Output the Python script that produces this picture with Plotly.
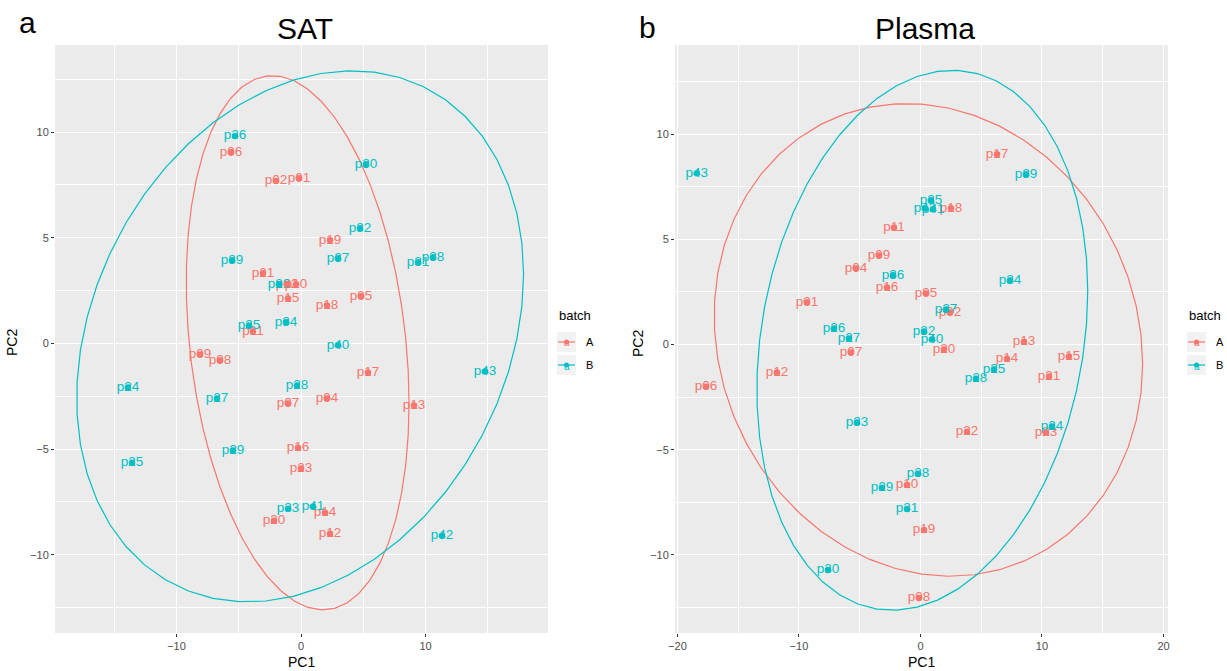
import numpy as np
import plotly.graph_objects as go

RED = "#F8766D"
TEAL = "#00BFC4"

# ---------------- data ----------------
A_labels = ["p01", "p02", "p04", "p05", "p06", "p07", "p08", "p09", "p10", "p11", "p12",
            "p13", "p14", "p15", "p16", "p17", "p18", "p19", "p20", "p21", "p22", "p23"]
B_labels = ["p24", "p25", "p26", "p27", "p28", "p29", "p30", "p31", "p32", "p33",
            "p34", "p35", "p36", "p37", "p38", "p39", "p40", "p41", "p42", "p43"]

sat_A_pc1 = [-0.16, -2.01, 2.09, 4.82, -5.62, -1.04, -6.51, -8.11, -0.40, -3.86, 2.33,
             9.08, 1.93, -1.04, -0.24, 5.38, 2.09, 2.33, -2.17, -3.05, -1.12, 0.00]
sat_A_pc2 = [7.82, 7.68, -2.61, 2.23, 9.05, -2.84, -0.81, -0.52, 2.80, 0.57, -9.00,
             -2.94, -8.01, 2.13, -4.93, -1.37, 1.80, 4.88, -8.39, 3.32, 2.80, -5.92]
sat_B_pc1 = [-13.90, -13.57, -1.77, -6.75, -0.32, -5.46, 5.22, 9.40, 4.74, -1.04,
             -1.20, -4.18, -5.30, 2.97, 10.60, -5.54, 2.97, 0.96, 11.33, 14.78]
sat_B_pc2 = [-2.09, -5.64, 2.80, -2.61, -1.99, -5.07, 8.48, 3.84, 5.45, -7.82,
             1.00, 0.85, 9.81, 4.03, 4.08, 3.93, -0.09, -7.73, -9.10, -1.33]

plasma_A_pc1 = [-9.34, 2.43, -5.31, 0.45, -17.65, -5.72, -0.12, -3.42, -1.11, -2.18, -11.81,
                8.52, 7.12, 12.22, -2.76, 6.30, 2.51, 0.29, 1.93, 10.58, 3.83, 10.33]
plasma_A_pc2 = [2.00, 1.52, 3.62, 2.43, -2.00, -0.38, -12.05, 4.24, -6.67, 5.57, -1.33,
                0.14, -0.67, -0.57, 2.71, 9.05, 6.48, -8.81, -0.24, -1.52, -4.14, -4.19]
plasma_B_pc1 = [10.82, 6.05, -7.12, -5.88, 4.57, -3.17, -7.61, -1.11, 0.29, -5.23,
                7.37, 0.86, -2.26, 2.10, -0.21, 8.68, 0.95, 1.03, 0.37, -18.40]
plasma_B_pc2 = [-3.90, -1.19, 0.76, 0.29, -1.62, -6.81, -10.71, -7.81, 0.62, -3.71,
                3.05, 6.86, 3.29, 1.67, -6.14, 8.10, 0.24, 6.43, 6.48, 8.14]

batches = ["A", "B"]
batch_colors = [RED, TEAL]

W, H = 1227, 671
FONT = "Liberation Sans, Arial, sans-serif"


# ------------- stat_ellipse (multivariate t, level 0.95) -------------
def cov_trob(x, nu=5, maxit=25, tol=0.01):
    n, p = x.shape
    wt = np.ones(n)
    loc = x.mean(axis=0)
    w = np.sqrt(wt)
    for _ in range(maxit):
        w0 = w
        X = x - loc
        _, d, vt = np.linalg.svd(np.sqrt(w / w.sum())[:, None] * X, full_matrices=False)
        wX = X @ vt.T @ np.diag(1.0 / d)
        Q = (wX ** 2).sum(axis=1)
        w = (wt * (nu + p)) / (nu + Q)
        loc = (w[:, None] * x).sum(axis=0) / w.sum()
        if np.all(np.abs(w - w0) < tol):
            break
    X = x - loc
    sw = np.sqrt(w)[:, None] * X
    return loc, sw.T @ sw / wt.sum()


def ellipse(px, py, level=0.95, segments=51):
    x = np.column_stack([px, py])
    n = len(px)
    center, shape = cov_trob(x)
    dfd = n - 1
    fq = (dfd / 2.0) * ((1 - level) ** (-2.0 / dfd) - 1)
    radius = np.sqrt(2 * fq)
    chol = np.linalg.cholesky(shape).T
    ang = np.arange(segments + 1) * 2 * np.pi / segments
    uc = np.column_stack([np.cos(ang), np.sin(ang)])
    e = center + radius * (uc @ chol)
    return e[:, 0], e[:, 1]


fig = go.Figure()

panels = [
    ("x", "y", [(A_labels, sat_A_pc1, sat_A_pc2), (B_labels, sat_B_pc1, sat_B_pc2)]),
    ("x2", "y2", [(A_labels, plasma_A_pc1, plasma_A_pc2), (B_labels, plasma_B_pc1, plasma_B_pc2)]),
]

for xa, ya, groups in panels:
    for (lab, p1, p2), col, nm in zip(groups, batch_colors, batches):
        ex, ey = ellipse(p1, p2)
        fig.add_trace(go.Scatter(x=ex, y=ey, mode="lines", xaxis=xa, yaxis=ya, name=nm,
                                 line=dict(color=col, width=1.2), showlegend=False,
                                 hoverinfo="skip"))
    for (lab, p1, p2), col, nm in zip(groups, batch_colors, batches):
        fig.add_trace(go.Scatter(x=p1, y=p2, mode="text", text=lab, xaxis=xa, yaxis=ya, name=nm,
                                 textposition="middle center",
                                 textfont=dict(color=col, family=FONT, size=13.5), showlegend=False))
    for (lab, p1, p2), col, nm in zip(groups, batch_colors, batches):
        fig.add_trace(go.Scatter(x=p1, y=p2, mode="markers", xaxis=xa, yaxis=ya, name=nm,
                                 marker=dict(color=col, size=6.5), showlegend=False))

top, bot = 1 - 45 / H, 1 - 633 / H
axis_common = dict(
    showgrid=True, gridcolor="white", gridwidth=1.1, zeroline=False,
    ticks="outside", ticklen=3, tickcolor="#333333", tickwidth=1,
    tickfont=dict(family=FONT, size=11, color="#4D4D4D"),
    showline=False, automargin=False,
)
ymin = dict(showgrid=True, gridcolor="white", gridwidth=0.5,
            tickvals=[-12.5, -7.5, -2.5, 2.5, 7.5, 12.5], ticks="")
xmin = dict(showgrid=True, gridcolor="white", gridwidth=0.5, tickvals=[-15, -5, 5, 15], ticks="")
yticks = dict(tickvals=[-10, -5, 0, 5, 10], ticktext=["\u221210", "\u22125", "0", "5", "10"])

annotations = []
shapes = []


def ann(text, x, y, size, color="black", xanchor="center", angle=0):
    annotations.append(dict(text=text, x=x / W, y=1 - y / H, xref="paper", yref="paper",
                            showarrow=False, textangle=angle,
                            font=dict(size=size, color=color, family=FONT),
                            xanchor=xanchor, yanchor="middle"))


# titles and panel tags
ann("SAT", 305, 29, 30)
ann("Plasma", 925, 29, 30)
ann("a", 27, 22, 30)
ann("b", 647, 28, 30)
# axis titles
ann("PC1", 301, 662, 14)
ann("PC1", 921, 662, 14)
ann("PC2", 12, 343, 14, angle=-90)
ann("PC2", 638, 343, 14, angle=-90)

# manual legends (ggplot style)
for kx in (557, 1187):
    ann("batch", kx, 315, 13, xanchor="left")
    for i, (nm, col) in enumerate(zip(batches, batch_colors)):
        cy = 342 + i * 23
        shapes.append(dict(type="rect", xref="paper", yref="paper",
                           x0=kx / W, x1=(kx + 19) / W, y0=1 - (cy - 10) / H, y1=1 - (cy + 10) / H,
                           fillcolor="#F2F2F2", line=dict(width=0), layer="below"))
        shapes.append(dict(type="line", xref="paper", yref="paper",
                           x0=(kx + 1) / W, x1=(kx + 18) / W, y0=1 - cy / H, y1=1 - cy / H,
                           line=dict(color=col, width=1.2)))
        ann("a", kx + 9.5, cy + 1, 10, color=col)
        shapes.append(dict(type="circle", xref="paper", yref="paper",
                           x0=(kx + 7) / W, x1=(kx + 12) / W, y0=1 - (cy - 2.5) / H, y1=1 - (cy + 2.5) / H,
                           fillcolor=col, line=dict(width=0)))
        ann(nm, kx + 27, cy, 11, xanchor="left")

fig.update_layout(
    width=W, height=H,
    margin=dict(l=0, r=0, t=0, b=0),
    paper_bgcolor="white", plot_bgcolor="#EBEBEB",
    font=dict(family=FONT, color="black"),
    showlegend=False,
    xaxis=dict(domain=[55 / W, 548 / W], anchor="y", range=[-19.76, 19.84],
               tickvals=[-10, 0, 10], ticktext=["\u221210", "0", "10"], minor=xmin, **axis_common),
    yaxis=dict(domain=[bot, top], anchor="x", range=[-13.70, 14.12], minor=ymin, **yticks, **axis_common),
    xaxis2=dict(domain=[675 / W, 1168 / W], anchor="y2", range=[-20.2, 20.37],
                tickvals=[-20, -10, 0, 10, 20], ticktext=["\u221220", "\u221210", "0", "10", "20"],
                minor=xmin, **axis_common),
    yaxis2=dict(domain=[bot, top], anchor="x2", range=[-13.71, 14.24], minor=ymin, **yticks, **axis_common),
    annotations=annotations,
    shapes=shapes,
)

fig.write_html("out.html", config={"displayModeBar": False},
               post_script="document.body.style.margin='0';document.body.style.padding='0';")
